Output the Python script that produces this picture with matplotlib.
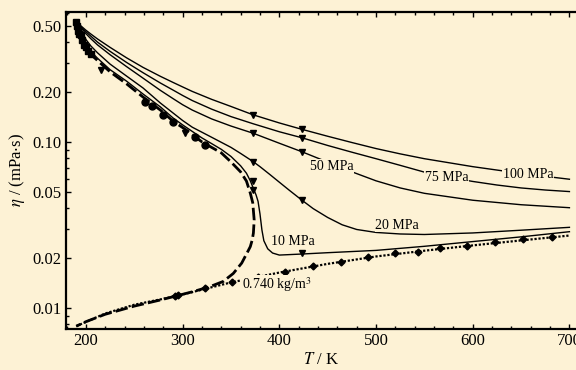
import matplotlib
matplotlib.use("Agg")
import matplotlib.pyplot as plt
from matplotlib.ticker import FixedLocator, FuncFormatter, LogLocator, NullFormatter, MultipleLocator

BG = '#FDF2D5'

# ---- isobars (T in K, eta in mPa s) ----
T_100 = [190, 195, 200, 205, 212, 225, 242, 259, 277, 290, 300, 310, 330, 350, 373, 400, 423, 450, 475, 500, 525, 550, 600, 650, 700]
eta_100 = [0.53, 0.50, 0.472, 0.448, 0.418, 0.372, 0.322, 0.282, 0.249, 0.229, 0.215, 0.202, 0.181, 0.164, 0.146, 0.1305, 0.1196, 0.1085, 0.0995, 0.0915, 0.0850, 0.0795, 0.0712, 0.0648, 0.0598]

T_75 = [190, 195, 200, 205, 212, 225, 242, 259, 277, 290, 300, 310, 330, 350, 373, 400, 423, 450, 475, 500, 525, 550, 575, 600, 625, 650, 675, 700]
eta_75 = [0.53, 0.495, 0.462, 0.435, 0.40, 0.352, 0.302, 0.262, 0.227, 0.206, 0.191, 0.178, 0.158, 0.1425, 0.129, 0.1155, 0.1064, 0.0955, 0.087, 0.0795, 0.0725, 0.0660, 0.0615, 0.0580, 0.0552, 0.0530, 0.0515, 0.0504]

T_50 = [190, 195, 200, 205, 212, 225, 242, 259, 277, 290, 300, 310, 330, 350, 373, 400, 423, 450, 475, 500, 525, 550, 600, 650, 700]
eta_50 = [0.53, 0.487, 0.45, 0.42, 0.385, 0.336, 0.285, 0.243, 0.205, 0.183, 0.168, 0.156, 0.138, 0.125, 0.1131, 0.0985, 0.0877, 0.0758, 0.0663, 0.0585, 0.0530, 0.0492, 0.0447, 0.0420, 0.0403]

T_20 = [190, 195, 200, 205, 212, 225, 242, 259, 277, 290, 300, 310, 330, 350, 360, 373, 380, 390, 400, 410, 423, 435, 450, 465, 480, 500, 525, 550, 600, 650, 700]
eta_20 = [0.53, 0.47, 0.415, 0.38, 0.345, 0.295, 0.25, 0.212, 0.172, 0.150, 0.135, 0.123, 0.107, 0.093, 0.0855, 0.0763, 0.0712, 0.0640, 0.0574, 0.0515, 0.0449, 0.0398, 0.0352, 0.0318, 0.0298, 0.0286, 0.0280, 0.0278, 0.0284, 0.0295, 0.0307]

T_10 = [190, 195, 200, 205, 212, 225, 242, 259, 277, 290, 300, 310, 320, 330, 340, 350, 360, 366, 370, 373, 376, 378, 380, 382, 384, 388, 393, 400, 423, 450, 500, 550, 600, 650, 700]
eta_10 = [0.53, 0.45, 0.39, 0.352, 0.32, 0.273, 0.233, 0.195, 0.163, 0.140, 0.127, 0.116, 0.106, 0.098, 0.0905, 0.082, 0.072, 0.065, 0.0585, 0.053, 0.048, 0.044, 0.037, 0.0296, 0.0255, 0.0228, 0.0215, 0.0209, 0.0212, 0.0216, 0.0223, 0.0236, 0.0252, 0.0269, 0.0289]

# ---- saturation curve (liquid branch, then vapour branch) ----
T_sat = [190, 192, 194.5, 197, 200, 205, 212, 225, 242, 259, 277, 290, 304, 320, 340, 350, 360, 366, 370, 372.5, 374,
         373.2, 372, 370, 368, 361.1, 352.4, 342, 328.3, 311, 276.6, 250, 220, 200, 190]
eta_sat = [0.54, 0.49, 0.442, 0.405, 0.372, 0.338, 0.31, 0.265, 0.2245, 0.187, 0.156, 0.134, 0.118, 0.1003, 0.0862, 0.076, 0.0662, 0.0583, 0.0493, 0.0432, 0.034,
           0.0284, 0.0258, 0.0235, 0.0223, 0.0187, 0.0162, 0.0145, 0.0135, 0.0126, 0.0112, 0.0103, 0.0092, 0.0083, 0.0078]

# ---- isochore 0.740 kg/m3 ----
T_iso = [190, 220, 250, 280, 300, 350, 400, 450, 500, 550, 600, 650, 700]
eta_iso = [0.0078, 0.0093, 0.0105, 0.0114, 0.0121, 0.0143, 0.0164, 0.0185, 0.0205, 0.0222, 0.0239, 0.0256, 0.0274]

# ---- experimental points ----
T_dia = [292, 295, 323, 351, 378, 406, 435, 464, 492, 520, 543, 566, 594, 623, 652, 682]
eta_dia = [0.0119, 0.0120, 0.0132, 0.0144, 0.0155, 0.0166, 0.0180, 0.0191, 0.0204, 0.0214, 0.0219, 0.0230, 0.0238, 0.0250, 0.0260, 0.0270]

T_tri = [373, 373, 373, 373, 373, 423, 423, 423, 423, 423, 216, 302]
eta_tri = [0.146, 0.1131, 0.0763, 0.058, 0.0517, 0.1196, 0.1064, 0.0877, 0.0449, 0.0214, 0.272, 0.114]

T_sq = [190, 191, 192, 193, 194.5, 196, 198, 200, 202.5, 205]
eta_sq = [0.53, 0.50, 0.47, 0.45, 0.442, 0.41, 0.385, 0.372, 0.355, 0.338]

T_circ = [261, 268, 280, 290, 313, 323]
eta_circ = [0.175, 0.164, 0.146, 0.133, 0.108, 0.0966]

labels = ['100 MPa', '75 MPa', '50 MPa', '20 MPa', '10 MPa', '0.740 kg/m$^3$']
label_T = [657, 573, 454, 522, 414, 397]
label_eta = [0.0641, 0.0615, 0.0712, 0.0317, 0.0252, 0.0138]

plt.rcParams['font.family'] = ['Liberation Serif', 'DejaVu Serif']
plt.rcParams['mathtext.fontset'] = 'stix'

fig = plt.figure(figsize=(5.76, 3.70), dpi=100, facecolor=BG)
ax = fig.add_axes([66/576, 1-329/370, 1-66/576, (329-11.7)/370])
ax.set_facecolor(BG)
ax.set_yscale('log')
ax.set_xlim(179.4, 706.8)
ax.set_ylim(0.0075, 0.61)

for T, e in [(T_100, eta_100), (T_75, eta_75), (T_50, eta_50), (T_20, eta_20), (T_10, eta_10)]:
    ax.plot(T, e, color='black', lw=1.0, zorder=3)
ax.plot(T_sat, eta_sat, color='black', lw=2.0, dashes=(4.5, 1.5), zorder=3)
ax.plot(T_iso, eta_iso, color='black', lw=1.6, dashes=(1.0, 0.8), zorder=3)

ax.plot(T_dia, eta_dia, 'D', color='black', ms=3.5, zorder=4)
ax.plot(T_tri, eta_tri, 'v', color='black', ms=5, zorder=4)
ax.plot(T_sq, eta_sq, 's', color='black', ms=4.5, zorder=4)
ax.plot(T_circ, eta_circ, 'o', color='black', ms=5, zorder=4)

for s, x, y in zip(labels, label_T, label_eta):
    ax.text(x, y, s, fontsize=10, ha='center', va='center', zorder=5,
            bbox=dict(facecolor=BG, edgecolor='none', pad=0.5))

ax.yaxis.set_major_locator(FixedLocator([0.01, 0.02, 0.05, 0.1, 0.2, 0.5]))
ax.yaxis.set_major_formatter(FuncFormatter(lambda v, p: f'{v:.2f}'))
ax.yaxis.set_minor_locator(LogLocator(base=10, subs=[1, 2, 3, 4, 5, 6, 7, 8, 9]))
ax.yaxis.set_minor_formatter(NullFormatter())
ax.xaxis.set_major_locator(FixedLocator([200, 300, 400, 500, 600, 700]))
ax.xaxis.set_minor_locator(MultipleLocator(20))

ax.tick_params(which='both', direction='in', top=True, right=False, labelsize=12, width=1.0, pad=3)
ax.tick_params(which='major', length=3.5)
ax.tick_params(which='minor', length=2)
for sp in ['left', 'bottom', 'top']:
    ax.spines[sp].set_linewidth(1.6)
ax.spines['right'].set_visible(False)

ax.set_xlabel('$T$ / K', fontsize=12, labelpad=2)
ax.set_ylabel('$\\eta$ / (mPa$\\cdot$s)', fontsize=12, labelpad=4)

fig.savefig('out.png', dpi=100, facecolor=BG)
